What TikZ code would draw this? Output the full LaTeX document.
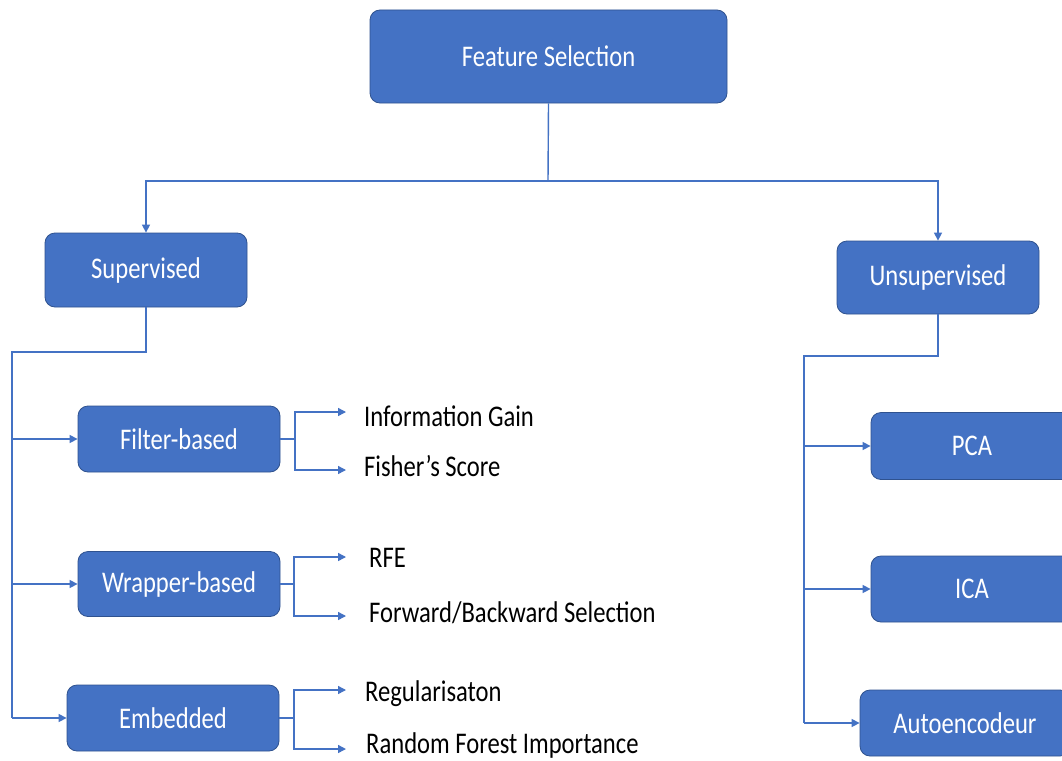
\documentclass[tikz,border=0pt]{standalone}
\usepackage{fontspec}
\setmainfont{Carlito}[FakeStretch=0.82]
\usetikzlibrary{arrows.meta}
\definecolor{obl}{HTML}{4472C4}
\definecolor{obd}{HTML}{2F528F}
\begin{document}
\begin{tikzpicture}[x=1pt,y=-1pt,
  box/.style={draw=obd, line width=0.8pt, fill=obl, rounded corners=10pt,
    text=white, font=\fontsize{30}{36}\selectfont, inner sep=0pt},
  lbl/.style={anchor=base west, font=\fontsize{30}{36}\selectfont, inner sep=0pt, text=black},
  conn/.style={draw=obl, line width=1.4pt},
  arr/.style={conn, -{Triangle[width=8pt,length=8pt]}}]
\useasboundingbox (0,0) rectangle (1062,760);
\clip (0,0) rectangle (1062,760);
\fill[white] (0,0) rectangle (1062,760);

% boxes
\node[box, minimum width=357pt, minimum height=93pt] (fs) at (548.5,56.5) {Feature Selection};
\node[box, minimum width=202pt, minimum height=74pt] (sup) at (146,270) {Supervised};
\node[box, minimum width=202pt, minimum height=73pt] (uns) at (938,277.5) {Unsupervised};
\node[box, minimum width=202pt, minimum height=66pt] (fil) at (179,439) {Filter-based};
\node[box, minimum width=202pt, minimum height=65pt] (wra) at (179,584) {Wrapper-based};
\node[box, minimum width=212pt, minimum height=66pt] (emb) at (173,718) {Embedded};
\node[box, minimum width=202pt, minimum height=67pt] (pca) at (972,446) {PCA};
\node[box, minimum width=202pt, minimum height=66pt] (ica) at (972,589) {ICA};
\node[box, minimum width=210pt, minimum height=66pt] (aut) at (965,723) {Autoencodeur};

% labels
\node[lbl] (ig) at (364,426) {Information Gain};
\node[lbl] (fsc) at (364,476) {Fisher’s Score};
\node[lbl] (rfe) at (369,567) {RFE};
\node[lbl] (fbs) at (369,622) {Forward/Backward Selection};
\node[lbl] (reg) at (365,701) {Regularisaton};
\node[lbl] (rfi) at (366,753) {Random Forest Importance};

% top tree
\coordinate (j) at (548,181);
\draw[conn] (fs.south) -- (j);
\draw[arr] (j) -| (sup.north);
\draw[arr] (j) -| (uns.north);

% supervised spine
\coordinate (sk) at (12,352);
\draw[conn] (sup.south) |- (sk) -- (sk |- emb.west);
\draw[arr] (sk |- fil.west) -- (fil.west);
\draw[arr] (sk |- wra.west) -- (wra.west);
\draw[arr] (sk |- emb.west) -- (emb.west);

% unsupervised spine
\coordinate (uk) at (804,356);
\draw[conn] (uns.south) |- (uk) -- (uk |- aut.west);
\draw[arr] (uk |- pca.west) -- (pca.west);
\draw[arr] (uk |- ica.west) -- (ica.west);
\draw[arr] (uk |- aut.west) -- (aut.west);

% forks
\coordinate (ff) at (295,439);
\coordinate (f1) at (346,412);
\coordinate (f2) at (346,470);
\draw[conn] (fil.east) -- (ff);
\draw[arr] (ff) |- (f1);
\draw[arr] (ff) |- (f2);

\coordinate (wf) at (294,584);
\coordinate (w1) at (346,557);
\coordinate (w2) at (346,616);
\draw[conn] (wra.east) -- (wf);
\draw[arr] (wf) |- (w1);
\draw[arr] (wf) |- (w2);

\coordinate (ef) at (294,718);
\coordinate (e1) at (346,690);
\coordinate (e2) at (346,749);
\draw[conn] (emb.east) -- (ef);
\draw[arr] (ef) |- (e1);
\draw[arr] (ef) |- (e2);
\end{tikzpicture}
\end{document}
